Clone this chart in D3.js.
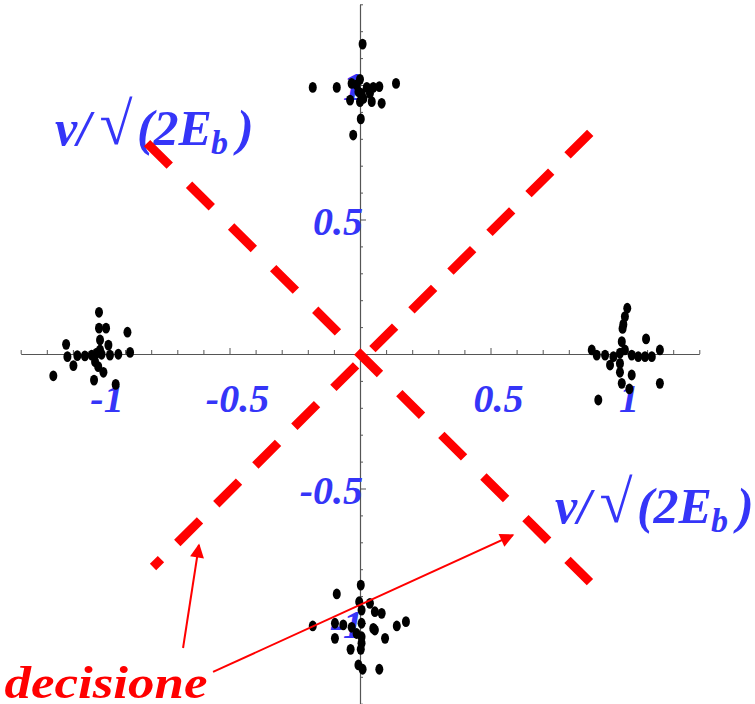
<!DOCTYPE html>
<html>
<head>
<meta charset="utf-8">
<script src="https://cdn.jsdelivr.net/npm/d3@7"></script>
<style>
  html, body { margin: 0; padding: 0; background: #fff; }
  svg { display: block; }
</style>
</head>
<body>
<div id="chart"></div>
<script>
// Received QPSK signal samples, normalised by sqrt(2Eb): one cloud per symbol
const clusterTop = [
  [0.010, 1.152], [-0.181, 0.991], [-0.089, 0.991], [0.138, 1.006], [-0.032, 1.006],
  [0.000, 1.021], [-0.013, 1.000], [0.026, 0.991], [0.051, 0.991], [0.074, 0.994],
  [-0.038, 0.944], [0.000, 0.938], [0.045, 0.938], [0.083, 0.932], [0.038, 0.969],
  [0.006, 0.969], [0.003, 0.874], [-0.026, 0.814], [-0.006, 0.975], [0.013, 0.950]
];
const clusterLeft = [
  [-1.000, 0.155], [-1.000, 0.096], [-0.973, 0.096], [-0.891, 0.081], [-1.126, 0.036],
  [-0.996, 0.052], [-0.964, 0.033], [-1.121, -0.010], [-1.083, -0.006], [-1.054, -0.007],
  [-1.028, -0.004], [-1.009, 0.003], [-0.990, -0.001], [-0.958, -0.004], [-0.926, -0.001],
  [-0.881, 0.006], [-1.098, -0.043], [-1.015, -0.029], [-0.983, -0.068], [-1.175, -0.081],
  [-1.019, -0.097], [-0.936, -0.113], [-0.996, 0.015], [-1.003, -0.047]
];
const clusterRight = [
  [1.024, 0.170], [1.015, 0.139], [1.009, 0.110], [1.006, 0.095], [1.096, 0.056],
  [1.003, 0.046], [0.888, 0.015], [0.907, -0.004], [0.939, -0.004], [0.971, -0.010],
  [0.996, 0.003], [1.015, 0.015], [1.041, -0.004], [1.066, -0.010], [1.092, -0.010],
  [1.118, -0.010], [1.149, 0.015], [0.958, -0.041], [0.996, -0.035], [0.996, -0.068],
  [1.041, -0.078], [1.003, -0.109], [1.032, -0.130], [1.149, -0.109], [0.913, -0.171]
];
const clusterBottom = [
  [0.003, -0.859], [-0.089, -0.892], [-0.003, -0.921], [0.038, -0.927], [0.006, -0.952],
  [0.057, -0.958], [0.083, -0.964], [-0.181, -1.011], [-0.096, -1.001], [-0.064, -1.007],
  [-0.032, -1.016], [0.006, -1.001], [0.051, -1.020], [0.141, -1.011], [0.176, -0.995],
  [-0.096, -1.057], [0.006, -1.051], [0.057, -1.026], [0.096, -1.057], [-0.036, -1.098],
  [0.003, -1.098], [-0.006, -1.156], [0.010, -1.172], [0.074, -1.172], [-0.013, -1.039],
  [0.006, -1.075]
];

// Axis ticks (every 0.1, major every 0.5) and labelled values
const tickValues = d3.range(-13, 14).filter(k => k !== 0).map(k => k / 10);
const xTickLabels = [-1, -0.5, 0.5, 1];
const yTickLabels = [1, 0.5, -0.5, -1];

// Decision boundaries (dashed) and annotation arrows, in signal units
const boundaries = [
  { from: [-0.816, 0.784], to: [0.881, -0.848], dash: "32 27.2", offset: 0 },
  { from: [0.912, 0.851], to: [-0.793, -0.792], dash: "32 23", offset: 44 }
];
const arrows = [
  [[-0.678, -1.093], [-0.617, -0.710]],
  [[-0.563, -1.182], [0.586, -0.673]]
];
const axisLabelAnchors = [[-1.169, 0.776], [0.747, -0.628]];
const noteText = "decisione";
const noteAnchor = [-1.362, -1.279];

const W = 755, H = 704;
const x = d3.scaleLinear().domain([-1.3, 1.3]).range([360 - 1.3 * 261, 360 + 1.3 * 261]);
const y = d3.scaleLinear().domain([-1.3, 1.3]).range([354 + 1.3 * 269, 354 - 1.3 * 269]);

const svg = d3.select("#chart").append("svg")
  .attr("width", W).attr("height", H)
  .style("font-family", "'Liberation Serif', 'Times New Roman', serif");

const blue = "#3535f8", red = "#ff0000", axisColor = "#555";
const isMajor = v => Math.abs(Math.round(v * 10) % 5) === 0;

// Axes crossing at the origin
const xAxis = svg.append("g").attr("transform", `translate(0,${y(0)})`)
  .call(d3.axisTop(x).tickValues(tickValues).tickSize(4).tickSizeOuter(0).tickFormat(""));
const yAxis = svg.append("g").attr("transform", `translate(${x(0)},0)`)
  .call(d3.axisRight(y).tickValues(tickValues).tickSize(3).tickSizeOuter(0).tickFormat(""));
xAxis.selectAll(".tick line").attr("y2", d => isMajor(d) ? -6 : -4);
yAxis.selectAll(".tick line").attr("x2", d => isMajor(d) ? 6 : 3);
[xAxis, yAxis].forEach(g => {
  g.select(".domain").attr("stroke", axisColor).attr("stroke-width", 1.2);
  g.selectAll(".tick line").attr("stroke", axisColor).attr("stroke-width", 1);
});

// Tick labels
svg.append("g").selectAll("text").data(xTickLabels).join("text")
  .attr("x", d => x(d) + 8).attr("y", y(0) + 58)
  .attr("text-anchor", "middle")
  .attr("font-size", 40).attr("font-weight", "bold").attr("font-style", "italic")
  .attr("fill", blue)
  .text(d => String(d));
svg.append("g").selectAll("text").data(yTickLabels).join("text")
  .attr("x", x(0) + 3).attr("y", d => y(d) + 15)
  .attr("text-anchor", "end")
  .attr("font-size", 40).attr("font-weight", "bold").attr("font-style", "italic")
  .attr("fill", blue)
  .text(d => String(d));

// Axis labels v/√(2Eb)
axisLabelAnchors.forEach(([ax, ay]) => {
  const x0 = x(ax), y0 = y(ay);
  const t = svg.append("text")
    .attr("font-size", 50).attr("font-weight", "bold").attr("font-style", "italic")
    .attr("fill", blue);
  t.append("tspan").attr("x", x0).attr("y", y0).text("v/");
  t.append("tspan").attr("x", x0 + 44).attr("y", y0 - 1).attr("font-size", 60).text("\u221A");
  t.append("tspan").attr("x", x0 + 82).attr("y", y0).text("(2E");
  t.append("tspan").attr("x", x0 + 156).attr("y", y0 + 9).attr("font-size", 34).text("b");
  t.append("tspan").attr("x", x0 + 182).attr("y", y0).text(")");
});

// Decision boundaries
svg.append("g").selectAll("line").data(boundaries).join("line")
  .attr("x1", d => x(d.from[0])).attr("y1", d => y(d.from[1]))
  .attr("x2", d => x(d.to[0])).attr("y2", d => y(d.to[1]))
  .attr("stroke", red).attr("stroke-width", 9)
  .attr("stroke-dasharray", d => d.dash)
  .attr("stroke-dashoffset", d => d.offset);

// Received samples
const clusters = [clusterTop, clusterLeft, clusterRight, clusterBottom];
svg.append("g").selectAll("g").data(clusters).join("g")
  .selectAll("ellipse").data(d => d).join("ellipse")
  .attr("cx", d => x(d[0])).attr("cy", d => y(d[1]))
  .attr("rx", 4).attr("ry", 5.4)
  .attr("fill", "#000");

// Annotation arrows
svg.append("defs").append("marker")
  .attr("id", "head").attr("viewBox", "0 0 10 10")
  .attr("refX", 9).attr("refY", 5)
  .attr("markerWidth", 8).attr("markerHeight", 7)
  .attr("markerUnits", "strokeWidth")
  .attr("orient", "auto")
  .append("path").attr("d", "M0,0 L10,5 L0,10 Z").attr("fill", red);
svg.append("g").selectAll("line").data(arrows).join("line")
  .attr("x1", d => x(d[0][0])).attr("y1", d => y(d[0][1]))
  .attr("x2", d => x(d[1][0])).attr("y2", d => y(d[1][1]))
  .attr("stroke", red).attr("stroke-width", 2)
  .attr("marker-end", "url(#head)");

svg.append("text")
  .attr("x", x(noteAnchor[0])).attr("y", y(noteAnchor[1]))
  .attr("font-size", 46).attr("font-weight", "bold").attr("font-style", "italic")
  .attr("fill", red)
  .attr("textLength", 203).attr("lengthAdjust", "spacingAndGlyphs")
  .text(noteText);
</script>
</body>
</html>
